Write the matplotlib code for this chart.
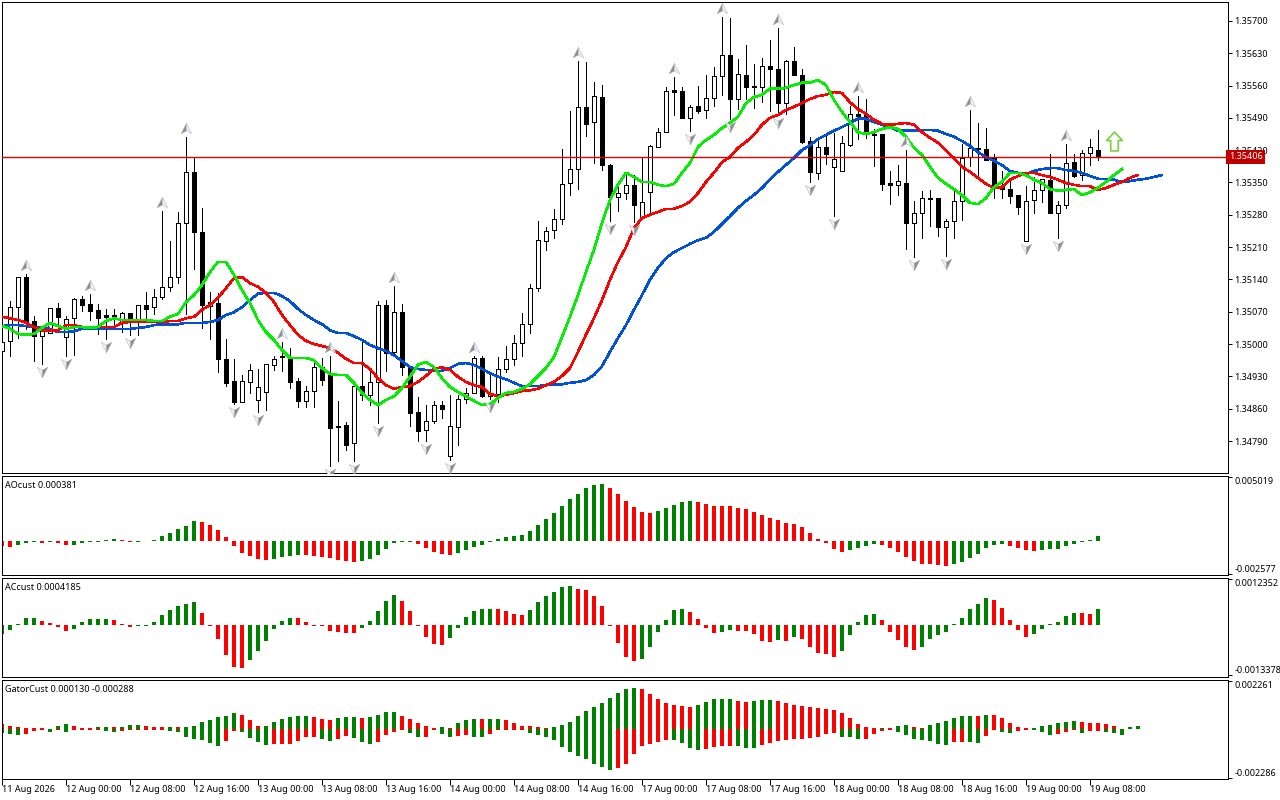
import numpy as np
import matplotlib
matplotlib.use('Agg')
import matplotlib.pyplot as plt
from matplotlib.path import Path
from matplotlib.transforms import offset_copy

plt.rcParams['font.family'] = ['Noto Sans', 'DejaVu Sans']

# hourly candles, prices in points (1e-5)
opens = [134985,135007,135080,135145,135050,135017,135024,135078,135015,135056,135098,135087,135074,135063,135063,135048,135067,135052,135085,135080,
         135102,135124,135145,135262,135373,135243,135082,135089,134968,134920,134874,134918,134879,134896,134955,134974,134972,134920,134877,134898,
         134950,134935,134822,134825,134786,134909,134890,134918,135085,134983,135069,134950,134853,134814,134833,134868,134757,134820,134881,134894,
         134970,134887,134892,134946,134968,135002,135043,135121,135223,135247,135271,135349,135379,135514,135481,135535,135388,135319,135327,135345,
         135273,135330,135427,135459,135550,135548,135490,135516,135507,135533,135581,135626,135531,135583,135559,135557,135603,135596,135522,135613,
         135583,135440,135371,135427,135384,135375,135431,135499,135499,135455,135455,135349,135345,135349,135262,135284,135316,135316,135254,135267,
         135310,135405,135425,135423,135403,135342,135336,135323,135223,135312,135334,135356,135284,135301,135394,135366,135414,135420]
highs = [135013,135093,135145,135152,135061,135037,135078,135089,135061,135100,135104,135109,135087,135076,135076,135069,135067,135085,135113,135119,
         135288,135223,135286,135449,135405,135295,135113,135111,135011,134968,134933,134957,134946,134957,134974,135004,134991,134926,134909,134959,
         134970,134974,134877,134831,134909,135007,134939,135093,135095,135126,135087,134950,134885,134868,134877,134877,134890,134890,134905,134974,
         134974,134933,134972,134996,135020,135067,135130,135267,135254,135293,135423,135505,135613,135611,135568,135561,135390,135351,135371,135366,
         135403,135431,135468,135557,135579,135557,135518,135559,135583,135600,135709,135707,135618,135648,135607,135620,135659,135685,135615,135644,
         135596,135449,135442,135457,135457,135451,135516,135537,135531,135466,135455,135375,135388,135420,135310,135332,135334,135316,135271,135334,
         135434,135507,135479,135468,135412,135375,135356,135323,135342,135362,135358,135412,135310,135434,135412,135420,135444,135464]
lows = [134974,134974,135013,135033,134963,134957,135024,135037,134974,134976,135072,135052,135022,135011,135033,135026,135020,135020,135052,135065,
        135098,135115,135132,135065,135163,135035,135011,134939,134909,134870,134874,134894,134853,134857,134944,134942,134905,134864,134864,134864,
        134911,134736,134747,134771,134747,134879,134868,134829,134942,134981,134933,134822,134790,134790,134829,134840,134749,134781,134872,134894,
        134885,134881,134874,134939,134955,134974,135024,135115,135204,135230,135260,135323,135336,135451,135392,135377,135267,135288,135314,135264,
        135273,135284,135427,135459,135496,135490,135462,135501,135490,135516,135540,135488,135509,135531,135511,135524,135505,135496,135499,135583,
        135436,135351,135358,135390,135277,135375,135429,135444,135447,135386,135334,135303,135323,135206,135189,135230,135256,135234,135191,135230,
        135269,135386,135360,135399,135316,135316,135306,135282,135223,135284,135308,135284,135230,135295,135362,135356,135388,135399]
closes = [135004,135080,135145,135050,135017,135028,135078,135059,135054,135098,135085,135072,135056,135059,135054,135067,135052,135085,135076,135102,
          135124,135145,135262,135373,135243,135085,135091,134968,134916,134874,134920,134944,134907,134957,134968,134972,134918,134877,134898,134950,
          134922,134818,134820,134781,134909,134890,134918,135085,134981,135069,134950,134851,134812,134833,134868,134859,134822,134881,134894,134970,
          134887,134892,134946,134968,135002,135043,135121,135225,135245,135271,135347,135379,135514,135477,135537,135388,135319,135327,135345,135301,
          135308,135429,135459,135548,135546,135490,135514,135505,135533,135581,135626,135531,135585,135557,135557,135603,135596,135522,135613,135583,
          135438,135373,135427,135412,135401,135436,135499,135494,135455,135453,135347,135345,135353,135262,135284,135316,135314,135254,135267,135310,
          135403,135425,135423,135399,135342,135336,135321,135297,135310,135334,135358,135284,135301,135392,135364,135414,135427,135408]

# alligator lines, points, already shifted forward
lips = [135039,135033,135022,135020,135022,135035,135046,135039,135033,135037,135037,135035,135037,135050,135056,135052,135052,135052,135052,135050,
        135050,135059,135065,135091,135106,135128,135156,135178,135178,135150,135117,135089,135052,135026,135009,134987,134970,134970,134970,134965,
        134948,134935,134933,134933,134916,134894,134879,134868,134879,134887,134905,134929,134955,134961,134950,134926,134907,134896,134887,134877,
        134868,134870,134883,134894,134896,134903,134913,134931,134948,134972,135015,135059,135106,135156,135204,135262,135312,135345,135371,135362,
        135351,135351,135345,135342,135347,135371,135392,135427,135442,135453,135468,135479,135492,135522,135535,135540,135553,135553,135555,135561,
        135566,135566,135572,135561,135529,135503,135481,135459,135455,135459,135466,135470,135466,135449,135425,135410,135384,135360,135347,135336,
        135323,135306,135303,135316,135340,135351,135371,135371,135366,135356,135349,135336,135332,135334,135336,135323,135329,135338,135351,135366,135379]
teeth = [135059,135056,135052,135046,135037,135030,135030,135030,135041,135041,135037,135037,135037,135037,135037,135046,135048,135048,135048,135048,
         135048,135050,135050,135056,135059,135074,135085,135100,135121,135143,135145,135132,135124,135111,135091,135063,135041,135020,135007,135000,
         134996,134991,134981,134968,134959,134959,134946,134926,134911,134903,134907,134909,134918,134931,134946,134950,134944,134929,134918,134911,
         134907,134892,134887,134890,134894,134898,134900,134903,134911,134918,134931,134948,134983,135020,135056,135095,135139,135178,135210,135251,
         135273,135280,135286,135293,135293,135299,135308,135327,135351,135371,135394,135405,135425,135438,135453,135475,135490,135496,135507,135514,
         135522,135531,135537,135540,135546,135544,135524,135509,135499,135486,135477,135475,135477,135479,135475,135459,135447,135436,135420,135403,
         135384,135373,135360,135347,135338,135340,135356,135364,135371,135371,135366,135362,135356,135349,135345,135342,135342,135334,135338,135345,
         135351,135360,135366]
jaws = [135039,135041,135041,135039,135037,135035,135033,135026,135026,135028,135033,135033,135033,135033,135033,135033,135033,135035,135037,135041,
        135043,135043,135043,135046,135046,135046,135048,135052,135063,135069,135080,135095,135109,135111,135111,135104,135093,135076,135063,135052,
        135043,135030,135024,135024,135017,135009,134998,134991,134985,134976,134963,134950,134946,134944,134942,134942,134948,134957,134959,134955,
        134946,134937,134929,134924,134916,134909,134909,134909,134911,134913,134913,134916,134918,134922,134933,134952,134983,135013,135041,135074,
        135106,135139,135165,135186,135199,135208,135217,135225,135230,135243,135260,135277,135295,135310,135323,135338,135356,135373,135388,135403,
        135420,135431,135444,135453,135462,135470,135479,135488,135488,135481,135475,135470,135462,135462,135462,135464,135464,135462,135455,135449,
        135440,135429,135416,135405,135397,135388,135375,135371,135368,135375,135379,135381,135381,135377,135375,135371,135364,135358,135358,135356,
        135351,135353,135356,135358,135362,135366]

# bars carrying a fractal
fractal_up = [3,11,20,23,35,41,49,59,72,84,90,97,107,113,121,133]
fractal_dn = [5,8,13,16,29,32,41,44,47,53,56,61,76,79,86,91,97,101,104,114,118,128,132]

last_price = 135406
signal_bar = 139
signal_price = 135440

# oscillators in 1e-6
ao = [-368,-473,-289,-132,-79,-132,-79,-132,-342,-316,-158,-79,-53,53,158,53,-79,-53,26,53,395,631,947,1184,1578,1499,1289,868,316,-395,
      -947,-1184,-1420,-1499,-1420,-1262,-1184,-1105,-1131,-1184,-1262,-1341,-1499,-1578,-1657,-1578,-1420,-1105,-631,-132,-79,-53,-237,-552,-868,-1026,-1105,-947,-710,-473,
      -316,-53,132,316,395,473,789,1262,1736,2209,2762,3314,3708,4182,4418,4497,4182,3708,3156,2683,2288,2209,2367,2604,2840,3077,3156,3077,2919,2788,
      2762,2735,2604,2525,2288,2051,1815,1657,1420,1341,1105,631,158,-158,-631,-868,-710,-552,-395,-237,-316,-552,-868,-1262,-1578,-1788,-1841,-1894,-1973,-1815,
      -1657,-1341,-1026,-552,-316,-237,-395,-552,-710,-789,-710,-658,-631,-395,-237,-79,53,381]
ac = [-232,-134,27,188,196,107,54,-54,-161,-107,80,152,161,170,134,27,-54,-36,-27,80,268,402,509,563,616,321,-18,-375,-804,-1125,
      -1152,-938,-697,-429,-107,107,188,179,80,-18,-36,-161,-188,-214,-223,-80,107,375,643,804,643,375,-18,-321,-509,-536,-348,-80,214,375,
      429,438,429,375,295,268,402,616,777,884,1018,1045,964,938,777,509,-27,-482,-857,-964,-911,-589,-188,134,402,429,348,161,-80,-214,
      -188,-134,-152,-161,-241,-429,-455,-402,-429,-321,-375,-589,-750,-777,-857,-697,-268,80,268,295,134,-188,-402,-589,-670,-589,-375,-268,-188,27,
      188,429,563,723,670,455,134,-134,-321,-241,-107,27,80,241,321,313,304,419]
gator_up = [234,140,94,62,47,47,0,140,234,140,47,47,94,94,78,94,187,187,140,94,
            94,109,94,109,140,328,421,562,608,749,655,421,140,156,328,468,562,608,624,562,
            468,421,515,562,562,515,562,655,796,796,608,468,281,140,47,94,47,281,421,468,
            452,468,484,421,281,140,140,94,47,94,187,328,608,842,1030,1217,1451,1685,1872,1919,
            1872,1638,1404,1217,1123,1076,1030,1123,1264,1404,1404,1404,1310,1264,1310,1357,1373,1310,1217,1123,
            1076,1030,983,936,889,749,515,234,94,31,47,31,140,187,94,47,187,281,374,515,
            608,624,608,655,640,515,281,94,47,62,140,187,281,328,374,328,281,265,234,140,
            16,94,140]
gator_dn = [187,234,281,234,94,47,140,47,140,47,47,47,47,94,140,94,47,47,47,47,
            47,94,140,374,468,515,655,796,562,94,140,421,608,749,702,702,702,562,374,374,
            468,562,468,328,421,608,702,608,281,140,47,187,374,359,47,234,374,328,281,374,
            374,234,47,47,47,47,187,281,374,515,842,1076,1264,1404,1638,1778,1919,1825,1638,1170,
            796,702,608,515,530,655,889,983,936,842,796,780,796,889,889,749,655,562,515,468,
            468,421,374,234,187,374,390,468,452,234,94,47,140,281,468,515,562,702,749,608,
            608,624,640,328,47,140,187,94,47,62,140,281,234,140,47,187,94,94,140,187,
            281,0,0]

date_labels = ['11 Aug 2026','12 Aug 00:00','12 Aug 08:00','12 Aug 16:00','13 Aug 00:00','13 Aug 08:00','13 Aug 16:00','14 Aug 00:00','14 Aug 08:00',
               '14 Aug 16:00','17 Aug 00:00','17 Aug 08:00','17 Aug 16:00','18 Aug 00:00','18 Aug 08:00','18 Aug 16:00','19 Aug 00:00','19 Aug 08:00']
price_ticks = [135700,135630,135560,135490,135420,135350,135280,135210,135140,135070,135000,134930,134860,134790]

FS = 6.5
LW = 0.72  # one pixel at dpi 100


def pane(top, bottom):
    ax = fig.add_axes([2/1280, (800-bottom)/800, 1225.5/1280, (bottom-top)/800])
    ax.set_xlim(0, 153.2)
    ax.yaxis.tick_right()
    ax.set_xticks([])
    ax.tick_params(axis='y', length=3, width=LW, labelsize=FS, pad=2)
    for s in ax.spines.values():
        s.set_linewidth(LW)
    return ax


def updown(vals, first):
    # green while rising, red while falling, flat keeps the last colour
    cols = [first]
    for a, b in zip(vals[:-1], vals[1:]):
        if b > a:
            cols.append('#008000')
        elif b < a:
            cols.append('#ff0000')
        else:
            cols.append(cols[-1])
    return cols


def hist_pane(ax, ticks, ticktext, name, ylim):
    ax.set_ylim(*ylim)
    ax.set_yticks(ticks)
    ax.set_yticklabels(ticktext)
    ax.get_yticklabels()[0].set_va('top')
    ax.get_yticklabels()[1].set_va('bottom')
    ax.text(3/1225, 0.9, name, transform=ax.transAxes, fontsize=FS, va='center')


fig = plt.figure(figsize=(12.8, 8), dpi=100)

# main chart
ax = pane(2, 473)
ax.set_ylim(134720.7/1e5, 135741/1e5)
ax.set_yticks(np.array(price_ticks)/1e5)
ax.set_yticklabels(['%.5f' % (p/1e5) for p in price_ticks])

o = np.array(opens)/1e5
h = np.array(highs)/1e5
l = np.array(lows)/1e5
c = np.array(closes)/1e5
xs = np.arange(len(o))

ax.vlines(xs, l, h, color='black', lw=LW, antialiased=False, zorder=2)
up = c >= o
ax.bar(xs[up], (c-o)[up], bottom=o[up], width=0.5, facecolor='white', edgecolor='black', lw=LW, antialiased=False, zorder=3)
ax.bar(xs[~up], (o-c)[~up], bottom=c[~up], width=0.5, facecolor='black', edgecolor='black', lw=LW, antialiased=False, zorder=3)

ax.plot(np.arange(len(jaws)), np.array(jaws)/1e5, color='#0050d8', lw=1.15, zorder=4, antialiased=False)
ax.plot(np.arange(len(teeth)), np.array(teeth)/1e5, color='#ff0000', lw=1.15, zorder=5, antialiased=False)
ax.plot(np.arange(len(lips)), np.array(lips)/1e5, color='#00f000', lw=1.15, zorder=6, antialiased=False)

ax.axhline(last_price/1e5, color='#e00000', lw=1, zorder=7)
ax.text(1.0012, last_price/1e5, '%.5f' % (last_price/1e5), transform=ax.get_yaxis_transform(), color='white', fontsize=FS,
        va='center', ha='left', zorder=20, bbox=dict(fc='#c00000', ec='none', pad=1.9))

# fractal arrows, two halves
up_l = Path([(0, 1), (-1, -1), (0, -0.45), (0, 1)], closed=True)
up_r = Path([(0, 1), (1, -1), (0, -0.45), (0, 1)], closed=True)
dn_l = Path([(0, -1), (-1, 1), (0, 0.45), (0, -1)], closed=True)
dn_r = Path([(0, -1), (1, 1), (0, 0.45), (0, -1)], closed=True)
hi_tr = offset_copy(ax.transData, fig=fig, y=9, units='dots')
lo_tr = offset_copy(ax.transData, fig=fig, y=-8, units='dots')
fx = np.array(fractal_up)
ax.plot(fx, h[fx], ls='', marker=up_l, ms=7.5, mfc='#8d8d8d', mec='#a8a8a8', mew=0.4, transform=hi_tr, zorder=8)
ax.plot(fx, h[fx], ls='', marker=up_r, ms=7.5, mfc='#eef0f6', mec='#b8bccb', mew=0.4, transform=hi_tr, zorder=8)
fx = np.array(fractal_dn)
ax.plot(fx, l[fx], ls='', marker=dn_l, ms=7.5, mfc='#eef0f6', mec='#b8bccb', mew=0.4, transform=lo_tr, zorder=8)
ax.plot(fx, l[fx], ls='', marker=dn_r, ms=7.5, mfc='#8d8d8d', mec='#a8a8a8', mew=0.4, transform=lo_tr, zorder=8)

# buy signal arrow
sig = Path([(0, 1), (-0.85, 0.1), (-0.4, 0.1), (-0.4, -1), (0.4, -1), (0.4, 0.1), (0.85, 0.1), (0, 1)], closed=True)
ax.plot([signal_bar], [signal_price/1e5], ls='', marker=sig, ms=13.5, mfc='white', mec='#78d040', mew=1.2, zorder=9)

# awesome oscillator
ax1 = pane(475.5, 575)
hist_pane(ax1, [0.005019, -0.002577], ['0.005019', '-0.002577'], 'AOcust 0.000381', (-0.002686, 0.005175))
v = np.array(ao)*1e-6
ax1.bar(np.arange(len(v)), v, width=0.5, color=updown(ao, '#ff0000'), lw=0, antialiased=False)

# accelerator
ax2 = pane(577.5, 677)
hist_pane(ax2, [0.0012352, -0.0013378], ['0.0012352', '-0.0013378'], 'ACcust 0.0004185', (-0.001394, 0.001273))
v = np.array(ac)*1e-6
ax2.bar(np.arange(len(v)), v, width=0.5, color=updown(ac, '#008000'), lw=0, antialiased=False)

# gator
ax3 = pane(679.5, 779)
hist_pane(ax3, [0.002261, -0.002286], ['0.002261', '-0.002286'], 'GatorCust 0.000130 -0.000288', (-0.002345, 0.002322))
ax3.bar(np.arange(len(gator_up)), np.array(gator_up)*1e-6, width=0.5, color=updown(gator_up, '#ff0000'), lw=0, antialiased=False)
ax3.bar(np.arange(len(gator_dn)), -np.array(gator_dn)*1e-6, width=0.5, color=updown(gator_dn, '#008000'), lw=0, antialiased=False)

ax3.set_xticks(np.arange(len(date_labels))*8)
ax3.set_xticklabels(date_labels, fontsize=FS, ha='left')
ax3.tick_params(axis='x', length=4, width=LW, pad=0.5)

fig.savefig('out.png', dpi=100)
